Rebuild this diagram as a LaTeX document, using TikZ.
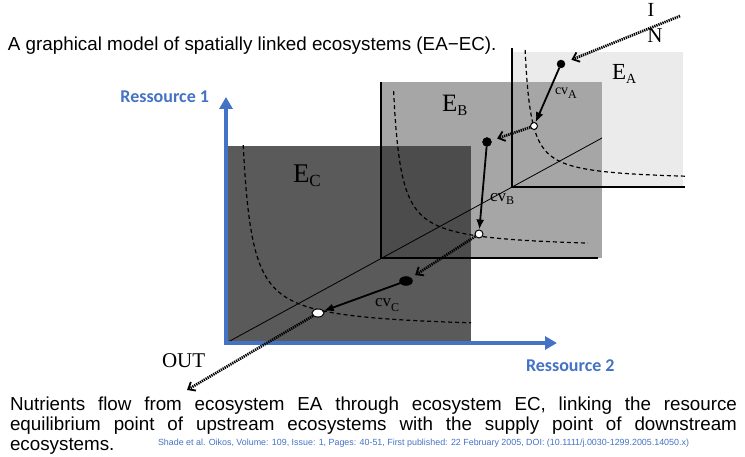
\documentclass[tikz,border=0pt]{standalone}
\usepackage{fontspec}
\setmainfont{Liberation Sans}
\newfontfamily\tnr{Liberation Serif}
\newfontfamily\calib{Carlito}
\usetikzlibrary{arrows.meta,shapes.geometric}
\definecolor{resblue}{HTML}{4472C4}
\definecolor{eaFill}{HTML}{EBEBEB}
\definecolor{ebFill}{HTML}{A6A6A6}
\definecolor{ecFill}{HTML}{3D3D3D}
\newcommand{\fs}[1]{\fontsize{#1}{#1}\selectfont}
\newcommand{\lowsub}[3]{\raisebox{-#3pt}{\fs{#1}#2}}
\tikzset{
  txt/.style={inner sep=0pt, outer sep=0pt},
  axisblue/.style={draw=resblue, line width=4pt, -{Triangle[length=12pt,width=13pt]}},
  ecoaxis/.style={draw=black, line width=1.6pt},
  diag/.style={draw=black, line width=0.8pt},
  iso/.style={draw=black, line width=1.2pt, dash pattern=on 4pt off 3pt},
  flow/.style={draw=black, line width=1.8pt, -{Latex[length=10pt,width=8pt]}},
  transfer/.style={draw=black, line width=2.7pt, dash pattern=on 1.3pt off 0.9pt, -{Straight Barb[length=6pt,width=10pt,line width=1.8pt]}},
  supply/.style={fill=black, draw=black, inner sep=0pt},
  equil/.style={fill=white, draw=black, line width=1pt, inner sep=0pt},
  serif/.style={txt, font=\tnr},
}
\begin{document}
\begin{tikzpicture}[x=1pt, y=-1pt]
\useasboundingbox (0,0) rectangle (745,457);

% ecosystem panels
\fill[eaFill] (512,52) rectangle (683,187);
\fill[ebFill] (381,82) rectangle (602,258);
\fill[ecFill, opacity=0.85] (228,146) rectangle (471,342);

% origins and diagonal
\coordinate (oC) at (228,342);
\coordinate (oB) at (381,258);
\coordinate (oA) at (512,187);
\coordinate (diagEnd) at (602,138);
\draw[diag] (oC) -- (diagEnd);

% isoclines
\draw[iso] plot[domain=525.1:685, samples=160] (\x, {181 - 800/(\x-519)});
\draw[iso] plot[domain=393.6:588, samples=160] (\x, {249 - 1200/(\x-386)});
\draw[iso] plot[domain=243.2:471, samples=160] (\x, {330 - 1700/(\x-234)});

% ecosystem axes
\draw[ecoaxis] (512,48) |- (685,187);
\draw[ecoaxis] (381,82) |- (598,258);

% blue resource axes
\draw[axisblue] (226,345) -- (226,97);
\draw[axisblue] (224,343) -- (557,343);
\node[txt, anchor=base east, text=resblue, font=\calib\bfseries\fs{18}] (r1) at (209,103) {Ressource 1};
\node[txt, anchor=base west, text=resblue, font=\calib\bfseries\fs{18}] (r2) at (526,371) {Ressource 2};

% points
\node[supply, circle, minimum size=8pt] (sA) at (561,64) {};
\node[equil, circle, minimum size=7pt] (eA) at (534,126) {};
\node[supply, circle, minimum size=9pt] (sB) at (487,142) {};
\node[equil, circle, minimum size=8pt] (eB) at (479,234) {};
\node[supply, ellipse, minimum width=13pt, minimum height=9pt] (sC) at (406,281) {};
\node[equil, ellipse, minimum width=12pt, minimum height=8pt] (eC) at (318,313) {};

% consumption vectors
\draw[flow] (sA) -- (eA);
\draw[flow] (sB) -- (eB);
\draw[flow] (sC) -- (eC);

% nutrient transfer
\coordinate (inStart) at (680,16);
\coordinate (outEnd) at (187,390);
\draw[transfer, shorten >=7pt] (inStart) -- (sA);
\draw[transfer, shorten >=6pt] (eA) -- (sB);
\draw[transfer, shorten >=5pt] (eB) -- (sC);
\draw[transfer] (eC) -- (outEnd);

% serif labels
\node[serif, anchor=base west, font=\tnr\fs{23}] (labA) at (612,80) {E\lowsub{14}{A}{4}};
\node[serif, anchor=base west, font=\tnr\fs{25}] (labB) at (442,112) {E\lowsub{15}{B}{4}};
\node[serif, anchor=base west, font=\tnr\fs{27}] (labC) at (293,183) {E\lowsub{17}{C}{4}};
\node[serif, anchor=base west, font=\tnr\fs{14}] (cvA) at (555,95) {cv\lowsub{12}{A}{4}};
\node[serif, anchor=base west, font=\tnr\fs{17}] (cvB) at (490,202) {cv\lowsub{12}{B}{3}};
\node[serif, anchor=base west, font=\tnr\fs{17}] (cvC) at (375,307) {cv\lowsub{12}{C}{5}};
\node[serif, anchor=base west, font=\tnr\fs{21}] (outL) at (162,367) {OUT};
\node[serif, anchor=base, font=\tnr\fs{20}] (inI) at (651,17) {I};
\node[serif, anchor=base, font=\tnr\fs{21}] (inN) at (655,43) {N};

% texts
\node[txt, anchor=base west, font=\fontsize{18.8}{22}\selectfont] (title) at (8,51) {A graphical model of spatially linked ecosystems (EA−EC).};
\node[txt, anchor=base west, font=\fontsize{18.8}{20}\selectfont] (para) at (10,410) {\parbox[t]{727pt}{Nutrients flow from ecosystem EA through ecosystem EC, linking the resource\linebreak equilibrium point of upstream ecosystems with the supply point of downstream\linebreak ecosystems.}};
\node[txt, anchor=base west, text=resblue, font=\fs{8.9}] (cite) at (158,445) {Shade et al. Oikos, Volume: 109, Issue: 1, Pages: 40-51, First published: 22 February 2005, DOI: (10.1111/j.0030-1299.2005.14050.x)};
\end{tikzpicture}
\end{document}
